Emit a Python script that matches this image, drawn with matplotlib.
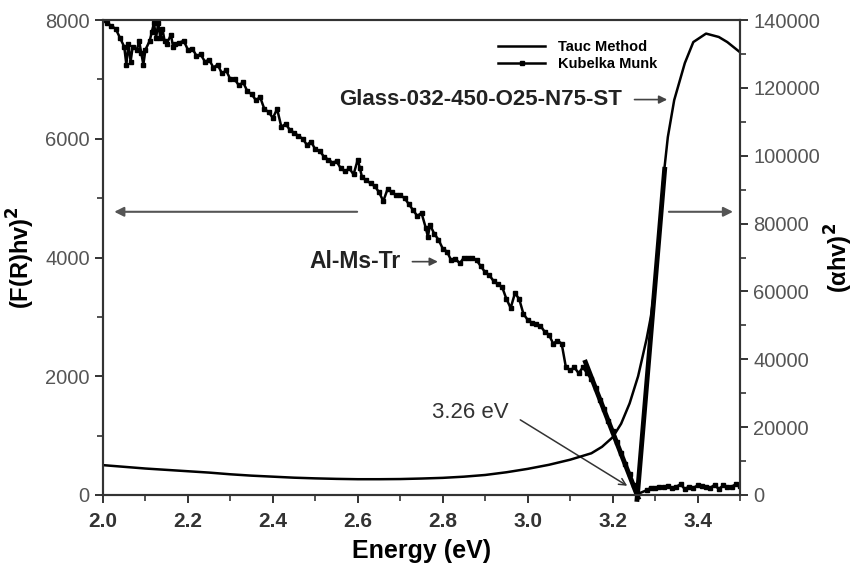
import numpy as np
import matplotlib.pyplot as plt
from matplotlib.ticker import MultipleLocator

plt.rcParams['font.family'] = ['Liberation Sans', 'DejaVu Sans']

#%% data
# Kubelka Munk, (F(R)hv)^2, left axis
km_e = [2.00, 2.01, 2.02, 2.03, 2.04, 2.05, 2.055, 2.06, 2.065, 2.07, 2.08, 2.085, 2.09,
        2.095, 2.10, 2.11, 2.115, 2.12, 2.125, 2.13, 2.135, 2.14, 2.145, 2.15, 2.16, 2.165,
        2.17, 2.18, 2.19, 2.20, 2.21, 2.22, 2.23, 2.24, 2.25, 2.26, 2.27, 2.28, 2.29, 2.30,
        2.31, 2.32, 2.33, 2.34, 2.35, 2.36, 2.37, 2.38, 2.39, 2.40, 2.41, 2.42, 2.43, 2.44,
        2.45, 2.46, 2.47, 2.48, 2.49, 2.50, 2.51, 2.52, 2.53, 2.54, 2.55, 2.56, 2.57, 2.58,
        2.59, 2.60, 2.605, 2.61, 2.62, 2.63, 2.64, 2.65, 2.66, 2.67, 2.68, 2.69, 2.70, 2.71,
        2.72, 2.73, 2.74, 2.75, 2.76, 2.765, 2.77, 2.78, 2.79, 2.80, 2.81, 2.82, 2.83, 2.84,
        2.85, 2.86, 2.87, 2.88, 2.89, 2.90, 2.91, 2.92, 2.93, 2.94, 2.95, 2.96, 2.97, 2.98,
        2.99, 3.00, 3.01, 3.02, 3.03, 3.04, 3.05, 3.06, 3.07, 3.08, 3.09, 3.10, 3.11, 3.12,
        3.13, 3.14, 3.15, 3.16, 3.17, 3.18, 3.19, 3.20, 3.21, 3.22, 3.23, 3.24, 3.25, 3.26,
        3.28, 3.29, 3.30, 3.31, 3.32, 3.33, 3.34, 3.35, 3.36, 3.37, 3.38, 3.39, 3.40, 3.41,
        3.42, 3.43, 3.44, 3.45, 3.46, 3.47, 3.48, 3.49, 3.50]
km_y = [8000, 7950, 7900, 7850, 7700, 7550, 7250, 7600, 7300, 7550, 7500, 7650, 7450,
        7250, 7500, 7650, 7800, 7950, 7700, 7950, 7700, 7850, 7650, 7600, 7750, 7550,
        7600, 7620, 7650, 7500, 7520, 7400, 7420, 7300, 7330, 7200, 7250, 7100, 7150, 7000,
        7000, 6900, 6950, 6800, 6750, 6650, 6700, 6500, 6450, 6350, 6500, 6200, 6250, 6150,
        6100, 6050, 6000, 5900, 5950, 5820, 5800, 5700, 5650, 5600, 5620, 5500, 5450, 5500,
        5400, 5650, 5500, 5350, 5300, 5250, 5200, 5100, 4950, 5150, 5100, 5050, 5050, 5000,
        4900, 4800, 4700, 4750, 4500, 4350, 4550, 4400, 4300, 4150, 4100, 3950, 3980, 3900,
        4000, 4000, 4000, 3950, 3850, 3750, 3700, 3600, 3550, 3500, 3300, 3150, 3400, 3300,
        3050, 2950, 2900, 2880, 2850, 2750, 2700, 2550, 2600, 2550, 2150, 2100, 2150, 2050,
        2150, 2050, 1950, 1800, 1600, 1450, 1250, 1080, 900, 700, 520, 350, 160, 20,
        80, 120, 110, 140, 130, 150, 120, 140, 180, 100, 140, 120, 160, 150,
        130, 120, 170, 100, 160, 130, 140, 180, 150]

# Tauc method, (alpha hv)^2, right axis
tauc_e = [2.00, 2.05, 2.10, 2.15, 2.20, 2.25, 2.30, 2.35, 2.40, 2.45, 2.50, 2.55, 2.60,
          2.65, 2.70, 2.75, 2.80, 2.85, 2.90, 2.95, 3.00, 3.05, 3.10, 3.15, 3.175, 3.20,
          3.22, 3.24, 3.26, 3.28, 3.29, 3.30, 3.31, 3.32, 3.33, 3.345, 3.37, 3.39, 3.42,
          3.45, 3.47, 3.50]
tauc_y = [8800, 8300, 7800, 7400, 7000, 6600, 6100, 5700, 5400, 5100, 4900, 4750, 4650,
          4650, 4700, 4850, 5050, 5400, 5900, 6700, 7700, 8900, 10400, 12300, 14200, 17000,
          21000, 27000, 35000, 46000, 52500, 62000, 78000, 94000, 105500, 116400, 127300,
          133500, 136000, 135000, 133500, 130500]

# tangent lines giving the band gap
km_fit_e = [3.134, 3.262]
km_fit_y = [2274, -80]
tauc_fit_e = [3.257, 3.323]
tauc_fit_y = [-2000, 96700]

#%%
fig = plt.figure(figsize=(8.59, 5.67), dpi=100)
ax = fig.add_axes([0.1199, 0.127, 0.7416, 0.8377])
ax2 = ax.twinx()

k, = ax.plot(km_e, km_y, color='black', lw=1.8, marker='s', ms=2.2, label='Kubelka Munk')
ax.plot(km_fit_e, km_fit_y, color='black', lw=3.5, clip_on=False, solid_capstyle='butt')
t, = ax2.plot(tauc_e, tauc_y, color='black', lw=1.8, label='Tauc Method')
ax2.plot(tauc_fit_e, tauc_fit_y, color='black', lw=3.5, clip_on=False, solid_capstyle='butt')

ax.set_xlim(2.0, 3.5)
ax.set_ylim(0, 8000)
ax2.set_ylim(0, 140000)

ax.xaxis.set_major_locator(MultipleLocator(0.2))
ax.xaxis.set_minor_locator(MultipleLocator(0.1))
ax.yaxis.set_major_locator(MultipleLocator(2000))
ax.yaxis.set_minor_locator(MultipleLocator(1000))
ax2.yaxis.set_major_locator(MultipleLocator(20000))
ax2.yaxis.set_minor_locator(MultipleLocator(10000))

for a in (ax, ax2):
    for s in a.spines.values():
        s.set_linewidth(1.5)
        s.set_color('#333333')
    a.tick_params(which='major', length=6, width=1.4, color='#333333', labelsize=14.5,
                  labelcolor='#555555')
    a.tick_params(which='minor', length=4, width=1.2, color='#333333')
ax.tick_params(axis='x', labelsize=15, labelcolor='#333333', pad=6)
for lbl in ax.get_xticklabels():
    lbl.set_fontweight('bold')

ax.set_xlabel('Energy (eV)', fontsize=18, fontweight='bold', labelpad=6)
ax.set_ylabel('(F(R)hv)$^\\mathbf{2}$', fontsize=17, fontweight='bold', labelpad=6)
ax2.set_ylabel('(\u03b1hv)$^\\mathbf{2}$', fontsize=17, fontweight='bold', labelpad=2)

leg = ax.legend(handles=[t, k], loc='upper left', bbox_to_anchor=(0.6, 0.985), frameon=False,
                prop={'weight': 'bold', 'size': 10.5}, handlelength=3.2, handletextpad=0.9,
                labelspacing=0.2)

# labels and arrows
ax.text(2.556, 6660, 'Glass-032-450-O25-N75-ST', fontsize=16, fontweight='bold',
        ha='left', va='center', color='#222222')
ax.annotate('', xy=(3.335, 6660), xytext=(3.245, 6660),
            arrowprops=dict(arrowstyle='-|>', color='#444444', lw=1.2, mutation_scale=12))
ax.text(2.485, 3930, 'Al-Ms-Tr', fontsize=16.5, fontweight='bold',
        ha='left', va='center', color='#222222')
ax.annotate('', xy=(2.795, 3930), xytext=(2.722, 3930),
            arrowprops=dict(arrowstyle='-|>', color='#444444', lw=1.2, mutation_scale=12))
ax.annotate('', xy=(2.02, 4770), xytext=(2.605, 4770),
            arrowprops=dict(arrowstyle='-|>', color='#555555', lw=1.5, mutation_scale=14))
ax.annotate('', xy=(3.49, 4770), xytext=(3.326, 4770),
            arrowprops=dict(arrowstyle='-|>', color='#555555', lw=1.5, mutation_scale=14))
ax.text(2.775, 1390, '3.26 eV', fontsize=16, ha='left', va='center', color='#333333')
ax.annotate('', xy=(3.24, 130), xytext=(2.977, 1290),
            arrowprops=dict(arrowstyle='->', color='#333333', lw=1.1, mutation_scale=12))

plt.savefig('out.png', dpi=100)
